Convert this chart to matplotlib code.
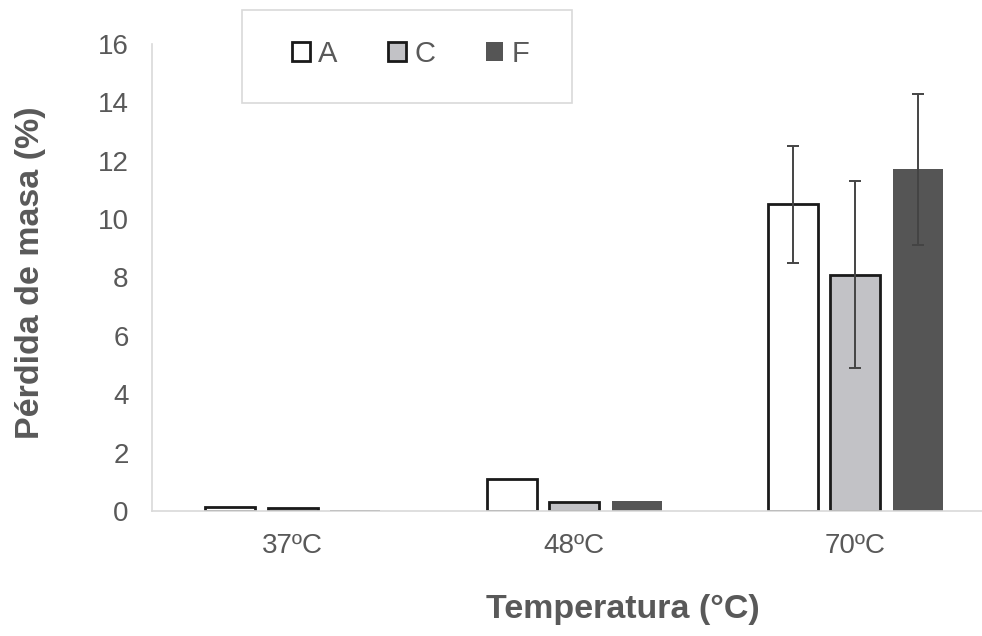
import numpy as np
import matplotlib
matplotlib.use('Agg')
import matplotlib.pyplot as plt
from matplotlib.patches import Rectangle

plt.rcParams['font.family'] = ['Liberation Sans', 'DejaVu Sans']

categories = ['37ºC', '48ºC', '70ºC']
series_names = ['A', 'C', 'F']
vals_A = [0.15, 1.1, 10.5]
vals_C = [0.1, 0.3, 8.1]
vals_F = [0.05, 0.35, 11.7]
err_A = [0, 0, 2.0]
err_C = [0, 0, 3.2]
err_F = [0, 0, 2.6]

txt = '#595959'
fig = plt.figure(figsize=(9.82, 6.36), dpi=100)
ax = fig.add_axes([0.155, 0.1965, 0.845, 0.7345])

x = np.arange(len(categories))
width = 0.178
offsets = [-0.222, 0, 0.222]
styles = [
    dict(facecolor='white', edgecolor='#1a1a1a', linewidth=2),
    dict(facecolor='#c2c2c6', edgecolor='#1a1a1a', linewidth=2),
    dict(facecolor='#555555', edgecolor='none', linewidth=0),
]
all_vals = [vals_A, vals_C, vals_F]
all_errs = [err_A, err_C, err_F]

for name, v, e, off, st in zip(series_names, all_vals, all_errs, offsets, styles):
    ax.bar(x + off, v, width, label=name, **st)
    v = np.array(v)
    e = np.array(e)
    m = e > 0
    ax.errorbar(x[m] + off, v[m], yerr=e[m], fmt='none', ecolor='#444444',
                elinewidth=1.4, capsize=4, capthick=1.4)

ax.set_ylim(0, 16)
ax.set_yticks(range(0, 17, 2))
ax.set_xlim(-0.5, 2.45)
ax.set_xticks(x)
ax.set_xticklabels(categories)
ax.tick_params(axis='both', length=0, labelsize=20, labelcolor=txt)
ax.tick_params(axis='x', pad=16)
ax.tick_params(axis='y', pad=17)

for s in ['top', 'right']:
    ax.spines[s].set_visible(False)
for s in ['left', 'bottom']:
    ax.spines[s].set_color('#d9d9d9')
    ax.spines[s].set_linewidth(1.2)

ax.set_ylabel('Pérdida de masa (%)', fontsize=24.5, fontweight='bold', color=txt)
ax.set_xlabel('Temperatura (°C)', fontsize=24.5, fontweight='bold', color=txt)
ax.yaxis.set_label_coords(-0.128, 0.51)
ax.xaxis.set_label_coords(0.5675, -0.178)

# legend box drawn separately, legend itself without frame
leg = fig.legend(loc='center left', bbox_to_anchor=(292 / 982, 1 - 54 / 636),
                 ncol=3, fontsize=21, frameon=False,
                 handlelength=0.6, handleheight=0.6, handletextpad=0.3,
                 columnspacing=1.73, borderpad=0, borderaxespad=0,
                 labelcolor=txt)
fig.patches.append(Rectangle((242 / 982, 1 - 103 / 636), 330 / 982, 93 / 636,
                             transform=fig.transFigure, fill=False,
                             edgecolor='#d9d9d9', linewidth=1.2))

fig.savefig('out.png', dpi=100)
